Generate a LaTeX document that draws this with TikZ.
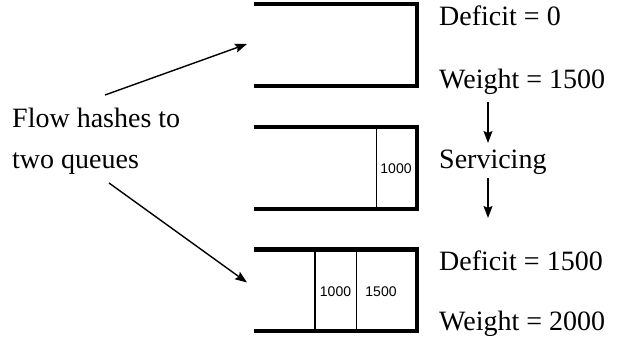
\documentclass[tikz,border=0pt]{standalone}
\usepackage{fontspec}
\setmainfont{Liberation Serif}
\newfontfamily\numfont{Liberation Sans}
\usetikzlibrary{arrows.meta}
\begin{document}
\begin{tikzpicture}[x=1pt,y=-1pt,
  qline/.style={line width=4.5pt,line cap=butt,line join=miter},
  divline/.style={line width=1.3pt},
  conn/.style={line width=1.4pt,-{Stealth[length=12pt,width=9pt,inset=2pt]}},
  lbl/.style={anchor=base west,inner sep=0pt,font=\fontsize{28}{34}\selectfont},
  num/.style={inner sep=0pt,font=\numfont\fontsize{14}{16}\selectfont}]
\useasboundingbox (0,0) rectangle (626,340);
% queue 1
\draw[qline] (254,4) -- (417,4) -- (417,86) -- (254,86);
% queue 2
\draw[qline] (254,127) -- (417,127) -- (417,209) -- (254,209);
\draw[divline] (376.7,127) -- (376.7,209);
\node[num] (q2a) at (396,169) {1000};
% queue 3
\draw[qline] (254,249.5) -- (417,249.5) -- (417,331) -- (254,331);
\draw[divline] (315,249.5) -- (315,331);
\draw[divline] (356.7,249.5) -- (356.7,331);
\node[num] (q3a) at (335.5,292) {1000};
\node[num] (q3b) at (381,292) {1500};
% left label
\node[lbl] (flow1) at (12,127.7) {Flow hashes to};
\node[lbl] (flow2) at (12,168) {two queues};
\coordinate (s1) at (105,95);
\coordinate (e1) at (247,44);
\coordinate (s2) at (109,183);
\coordinate (e2) at (247,282.5);
\draw[conn] (s1) -- (e1);
\draw[conn] (s2) -- (e2);
% right labels
\node[lbl] (d0) at (439,25) {Deficit = 0};
\node[lbl] (w0) at (439,88.5) {Weight = 1500};
\node[lbl] (sv) at (439,168) {Servicing};
\node[lbl] (d1) at (439,270.7) {Deficit = 1500};
\node[lbl] (w1) at (439,330) {Weight = 2000};
\coordinate (a1s) at (488,102);
\coordinate (a1e) at (488,143);
\coordinate (a2s) at (488,178);
\coordinate (a2e) at (488,218);
\draw[conn] (a1s) -- (a1e);
\draw[conn] (a2s) -- (a2e);
\end{tikzpicture}
\end{document}
